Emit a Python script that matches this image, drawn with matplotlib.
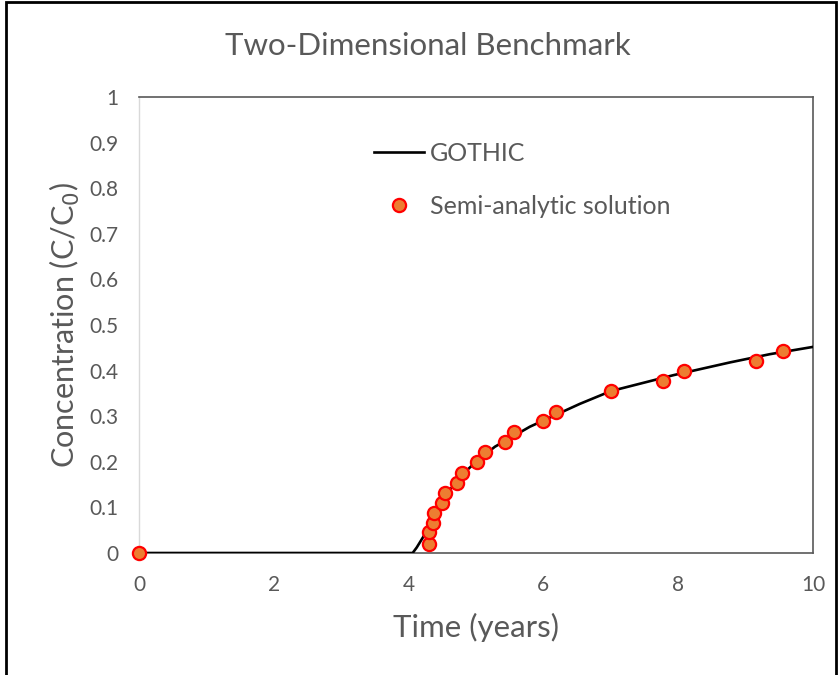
import matplotlib
matplotlib.use("Agg")
import matplotlib.pyplot as plt
from matplotlib.patches import Rectangle

plt.rcParams['font.family'] = ['Lato', 'DejaVu Sans']

# GOTHIC curve
gothic_t = [0, 4.06, 4.12, 4.22, 4.35, 4.52, 4.76, 5.0, 5.28, 5.8, 6.54, 7.0, 7.93, 8.77, 9.36, 10.0]
gothic_c = [0, 0, 0.012, 0.036, 0.075, 0.12, 0.167, 0.2, 0.233, 0.277, 0.327, 0.355, 0.39, 0.418, 0.436, 0.452]

# Semi-analytic solution
semi_t = [0, 4.30, 4.30, 4.36, 4.38, 4.50, 4.54, 4.72, 4.79, 5.01, 5.13, 5.43, 5.56, 6.00, 6.19, 7.00, 7.78, 8.09, 9.15, 9.56]
semi_c = [0, 0.020, 0.045, 0.065, 0.087, 0.110, 0.131, 0.154, 0.176, 0.200, 0.221, 0.244, 0.266, 0.289, 0.310, 0.355, 0.378, 0.400, 0.420, 0.444]

x_ticks = [0, 2, 4, 6, 8, 10]
y_ticks = [0, 0.1, 0.2, 0.3, 0.4, 0.5, 0.6, 0.7, 0.8, 0.9, 1]
y_labels = ['0', '0.1', '0.2', '0.3', '0.4', '0.5', '0.6', '0.7', '0.8', '0.9', '1']

gray = '#595959'

fig = plt.figure(figsize=(8.38, 6.75), dpi=100)
ax = fig.add_axes([139/838, 1-553/675, (813-139)/838, (553-97)/675])

ax.plot(gothic_t, gothic_c, color='black', lw=1.9, label='GOTHIC', zorder=3)
ax.plot(semi_t, semi_c, linestyle='none', marker='o', markersize=9.5,
        markerfacecolor='#ED7D31', markeredgecolor='#FF0000', markeredgewidth=1.6,
        label='Semi-analytic solution', zorder=4, clip_on=False)

ax.set_xlim(0, 10)
ax.set_ylim(0, 1)
ax.set_xticks(x_ticks)
ax.set_yticks(y_ticks)
ax.set_yticklabels(y_labels)
ax.tick_params(length=0, labelsize=15, colors=gray)
ax.tick_params(axis='x', pad=16)
ax.tick_params(axis='y', pad=15)

for s in ['top', 'right', 'bottom']:
    ax.spines[s].set_color('#595959')
    ax.spines[s].set_linewidth(1.2)
ax.spines['left'].set_color('#d9d9d9')
ax.spines['left'].set_linewidth(1.0)

ax.set_xlabel('Time (years)', fontsize=22.5, color=gray, labelpad=13)
ax.set_ylabel('Concentration (C/C$_0$)', fontsize=22, color=gray, labelpad=5)

fig.text(428/838, 1-46/675, 'Two-Dimensional Benchmark', ha='center', va='center',
         fontsize=22.5, color=gray)

leg = ax.legend(loc='upper left', bbox_to_anchor=((374-139)/674, 1-(142-97)/456),
                frameon=False, fontsize=18, handlelength=2.0, handletextpad=0.25,
                labelspacing=1.2, borderaxespad=0, borderpad=0)
for t in leg.get_texts():
    t.set_color(gray)

fig.patches.append(Rectangle((6/838, -0.01), (836-6)/838, 1.0 - 2/675 + 0.01,
                             transform=fig.transFigure, fill=False,
                             edgecolor='black', lw=2.0))

fig.savefig('out.png', dpi=100)
